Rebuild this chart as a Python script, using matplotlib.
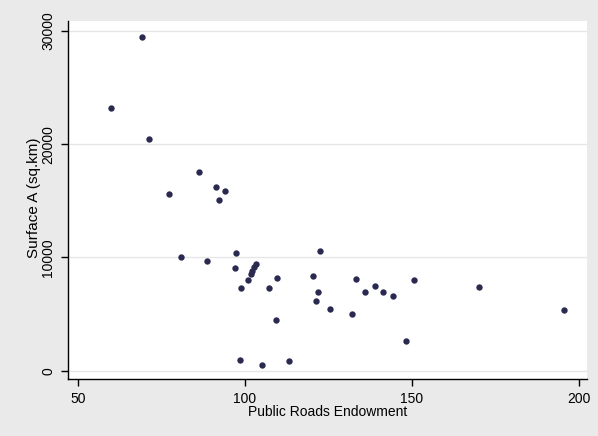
import matplotlib
matplotlib.use("Agg")
import matplotlib.pyplot as plt

plt.rcParams['font.family'] = ['Liberation Sans', 'DejaVu Sans']

# values
roads = [69.3, 59.9, 71.4, 86.2, 77.3, 91.2, 94.1, 92.1,
         80.7, 88.5, 97.3, 97.1, 103.2, 102.7, 102.2, 101.7,
         100.8, 98.9, 109.6, 107.1, 109.3, 98.6, 105.1, 113.2,
         122.5, 120.5, 121.8, 121.4, 125.5, 132.1, 133.3, 136.0,
         139.0, 141.3, 144.2, 148.2, 150.7, 170.2, 195.5]
surface = [29450, 23160, 20480, 17540, 15570, 16210, 15830, 15040,
           10060, 9710, 10360, 9090, 9420, 9130, 8830, 8560,
           8000, 7270, 8150, 7270, 4480, 970, 480, 830,
           10590, 8360, 6970, 6150, 5450, 5000, 8090, 6920,
           7500, 6970, 6590, 2650, 8030, 7410, 5330]

x_ticks = [50, 100, 150, 200]
y_ticks = [0, 10000, 20000, 30000]

fig = plt.figure(figsize=(5.98, 4.36), dpi=100, facecolor='#eaeaea')
ax = fig.add_axes([0.1137, 0.1307, 0.8679, 0.8211])
ax.set_facecolor('white')

ax.scatter(roads, surface, s=21, color='#2a2a50', zorder=3, linewidths=0)

ax.set_xlim(47.0, 202.4)
ax.set_ylim(-730, 30860)
ax.set_xticks(x_ticks)
ax.set_yticks(y_ticks)
ax.set_yticklabels([str(v) for v in y_ticks], rotation=90, va='center')

ax.grid(axis='y', color='#e6e6e6', linewidth=1)
ax.set_axisbelow(True)
for side in ['top', 'right']:
    ax.spines[side].set_visible(False)
for side in ['left', 'bottom']:
    ax.spines[side].set_color('black')
    ax.spines[side].set_linewidth(1)

ax.tick_params(axis='both', length=5, width=1, color='black', labelsize=10, pad=4)

ax.set_xlabel('Public Roads Endowment', fontsize=10, va='top')
ax.xaxis.set_label_coords(0.5, -0.072)
ax.set_ylabel('Surface A (sq.km)', fontsize=11)
ax.yaxis.set_label_coords(-0.052, 0.505)

fig.savefig('out.png', dpi=100, facecolor=fig.get_facecolor())
